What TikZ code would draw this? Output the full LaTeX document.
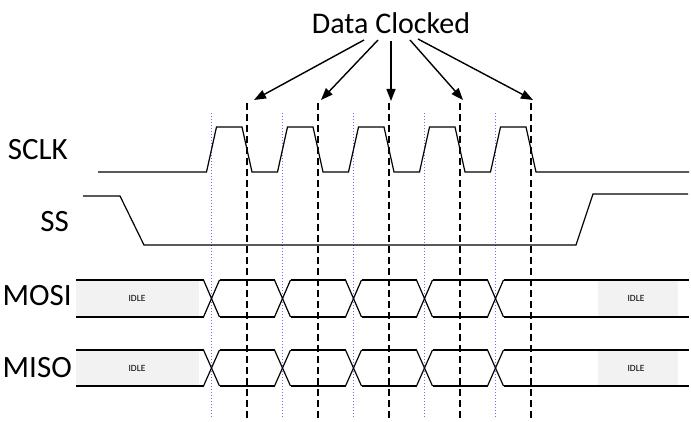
\documentclass[tikz,border=0pt]{standalone}
\usepackage{fontspec}
\setmainfont{Carlito}
\usetikzlibrary{arrows.meta}
\definecolor{dotc}{RGB}{120,105,235}
\definecolor{idlegray}{RGB}{242,242,242}
\tikzset{
  sig/.style={line width=1.2pt, line join=miter},
  lbl/.style={anchor=east, font=\fontsize{31}{33}\selectfont, inner sep=0pt},
  idletxt/.style={font=\fontsize{9.5}{10}\selectfont, inner sep=0pt},
  idlebox/.style={fill=idlegray, draw=none},
  dashline/.style={line width=1.1pt, dash pattern=on 7pt off 4pt},
  dotline/.style={dotc, line width=1pt, dash pattern=on 1pt off 2pt},
  clkarrow/.style={line width=1.4pt, -{Triangle[length=12pt,width=9pt]}}
}
\begin{document}
\begin{tikzpicture}[x=1pt,y=-1pt]
\useasboundingbox (0,0) rectangle (691,422);

% idle boxes
\fill[idlebox] (76,280) rectangle (199,317);
\fill[idlebox] (598,280) rectangle (678,317);
\fill[idlebox] (76,350) rectangle (199,386);
\fill[idlebox] (598,350) rectangle (678,386);
\node[idletxt] (idle1) at (137,298) {IDLE};
\node[idletxt] (idle2) at (636,298) {IDLE};
\node[idletxt] (idle3) at (137,368) {IDLE};
\node[idletxt] (idle4) at (636,368) {IDLE};

% guide lines
\foreach \i in {0,...,4}{
  \pgfmathsetmacro{\xd}{211.5+71*\i}
  \pgfmathsetmacro{\xc}{247+71*\i}
  \draw[dotline] (\xd,113) -- (\xd,418);
  \draw[dashline] (\xc,103) -- (\xc,422);
}

% labels
\node[lbl] (sclk) at (68,150) {SCLK};
\node[lbl] (ss) at (69,222) {SS};
\node[lbl] (mosi) at (72,296) {MOSI};
\node[lbl] (miso) at (72,368) {MISO};

% title and arrows
\node[font=\fontsize{30}{32}\selectfont, inner sep=0pt] (title) at (391,23) {Data Clocked};
\coordinate (s1) at (364,40);
\coordinate (s2) at (378,40);
\coordinate (s3) at (391,41);
\coordinate (s4) at (410,40);
\coordinate (s5) at (418,39);
\coordinate (e1) at (254,100);
\coordinate (e2) at (321,100);
\coordinate (e3) at (391,101);
\coordinate (e4) at (463,100);
\coordinate (e5) at (533,100);
\foreach \k in {1,...,5}{
  \draw[clkarrow] (s\k) -- (e\k);
}

% SCLK
\draw[sig] (98,172)
  \foreach \i in {0,...,4}{
    -- ({206.5+71*\i},172) -- ({216.5+71*\i},127)
    -- ({242+71*\i},127) -- ({252+71*\i},172)
  } -- (689,172);

% SS
\draw[sig] (83,196) -- (120,196) -- (144,245) -- (576,245) -- (593,194) -- (688,194);

% MOSI and MISO buses
\foreach \t/\b in {280/317, 350/386}{
  \draw[sig] (76,\t) -- (203.5,\t);
  \draw[sig] (76,\b) -- (203.5,\b);
  \foreach \i in {0,...,4}{
    \pgfmathsetmacro{\xa}{211.5+71*\i-8}
    \pgfmathsetmacro{\xb}{211.5+71*\i+8}
    \draw[sig] (\xa,\t) -- (\xb,\b);
    \draw[sig] (\xa,\b) -- (\xb,\t);
  }
  \foreach \i in {0,...,3}{
    \pgfmathsetmacro{\xa}{211.5+71*\i+8}
    \pgfmathsetmacro{\xb}{211.5+71*(\i+1)-8}
    \draw[sig] (\xa,\t) -- (\xb,\t);
    \draw[sig] (\xa,\b) -- (\xb,\b);
  }
  \draw[sig] (503.5,\t) -- (689,\t);
  \draw[sig] (503.5,\b) -- (689,\b);
}
\end{tikzpicture}
\end{document}
